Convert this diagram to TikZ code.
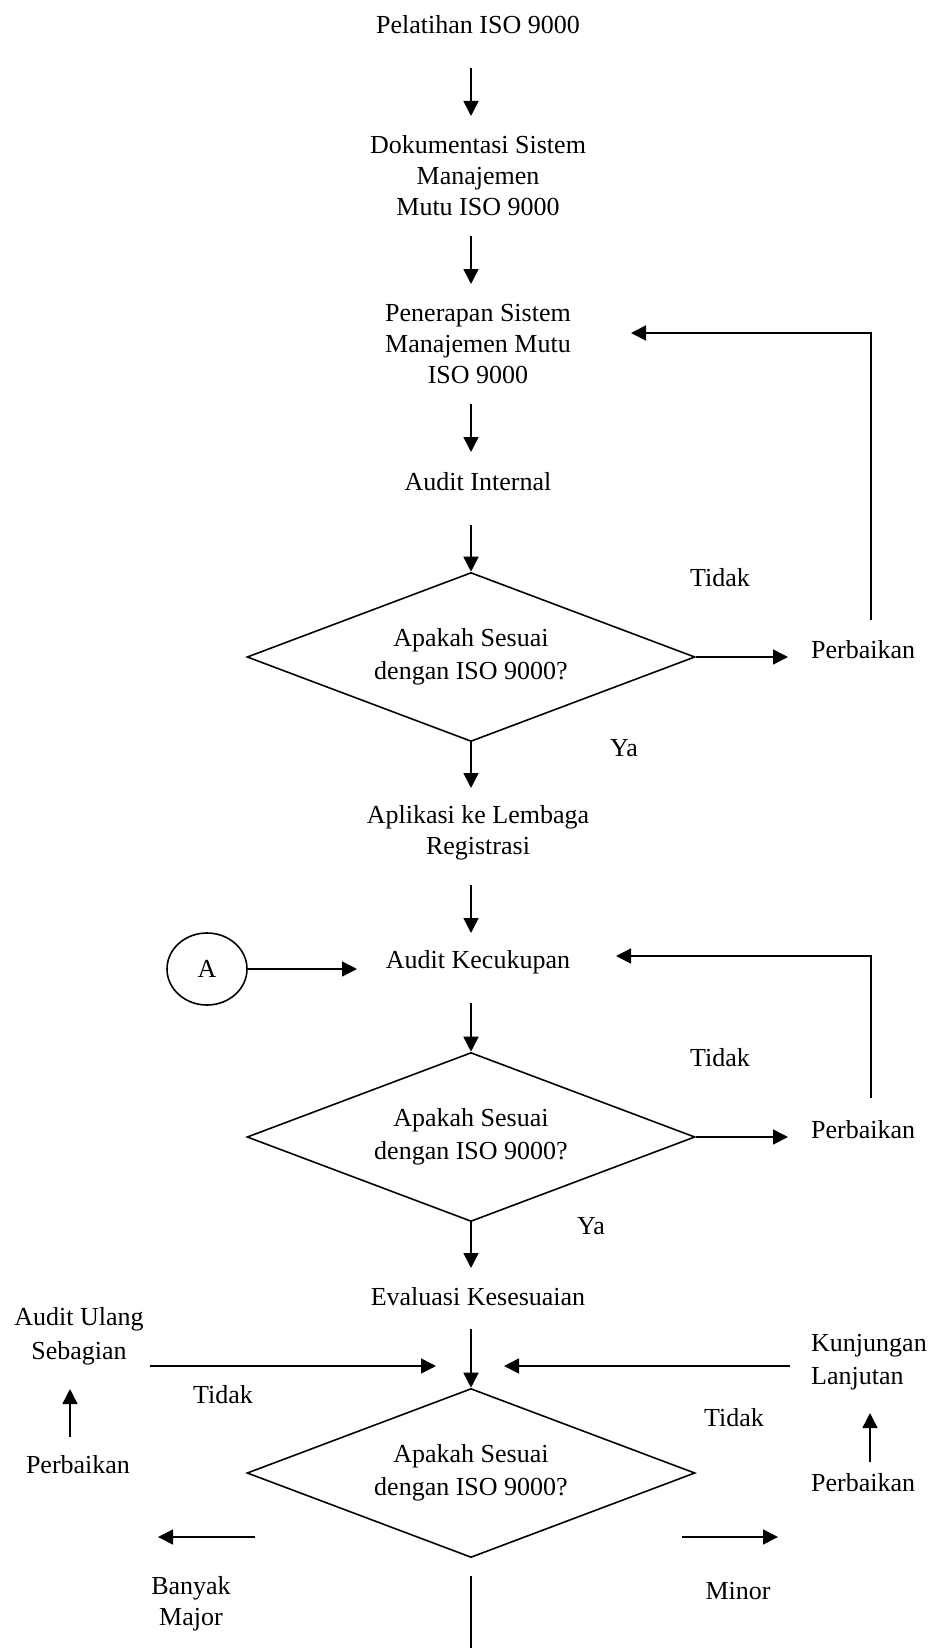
\documentclass[tikz,border=0pt]{standalone}
\usepackage{fontspec}
\setmainfont{Liberation Serif}
\usetikzlibrary{shapes.geometric,arrows.meta}
\begin{document}
\begin{tikzpicture}[x=1pt,y=-1pt,
  lbl/.style={font=\fontsize{26}{31}\selectfont, align=center, inner sep=0pt, yshift=-2pt},
  lblL/.style={font=\fontsize{26}{31}\selectfont, align=left, inner sep=0pt, anchor=west, yshift=-2pt},
  ln/.style={line width=1.6pt},
  arr/.style={line width=1.6pt, -{Triangle[length=15pt,width=15pt]}},
  dec/.style={draw, line width=1.6pt, diamond, aspect=2.65, minimum width=448pt, minimum height=169pt, inner sep=0pt, font=\fontsize{26}{33}\selectfont, align=center},
  conn/.style={draw, line width=1.6pt, ellipse, minimum width=80pt, minimum height=72pt, inner sep=0pt, font=\fontsize{26}{31}\selectfont}]
\useasboundingbox (0,0) rectangle (935,1648);

% main column
\node[lbl] (p1) at (478,23) {Pelatihan ISO 9000};
\node[lbl] (p2) at (478,174) {Dokumentasi Sistem\\Manajemen\\Mutu ISO 9000};
\node[lbl] (p3) at (478,342) {Penerapan Sistem\\Manajemen Mutu\\ISO 9000};
\node[lbl] (p4) at (478,480) {Audit Internal};
\node[dec] (d1) at (471,657) {Apakah Sesuai\\dengan ISO 9000?};
\node[lbl] (t1) at (720,576) {Tidak};
\node[lblL] (f1) at (811,648) {Perbaikan};
\node[lbl] (y1) at (624,746) {Ya};
\node[lbl] (p5) at (478,831) {Aplikasi ke Lembaga\\Registrasi};
\node[lbl] (p6) at (478,960) {Audit Kecukupan};
\node[conn] (A) at (207,969) {A};
\node[dec] (d2) at (471,1137) {Apakah Sesuai\\dengan ISO 9000?};
\node[lbl] (t2) at (720,1056) {Tidak};
\node[lblL] (f2) at (811,1128) {Perbaikan};
\node[lbl] (y2) at (591,1224) {Ya};
\node[lbl] (p7) at (478,1295) {Evaluasi Kesesuaian};
\node[dec] (d3) at (471,1473) {Apakah Sesuai\\dengan ISO 9000?};
\node[lbl] (au) at (79,1334) {Audit Ulang\\[3pt]Sebagian};
\node[lblL] (kl) at (811,1360) {Kunjungan\\[2pt]Lanjutan};
\node[lbl] (t3) at (223,1393) {Tidak};
\node[lbl] (t4) at (734,1416) {Tidak};
\node[lbl] (f3) at (78,1463) {Perbaikan};
\node[lblL] (f4) at (811,1481) {Perbaikan};
\node[lbl] (bm) at (191,1602) {Banyak\\Major};
\node[lbl] (mi) at (738,1589) {Minor};

% arrow end points
\coordinate (a1s) at (471,68);   \coordinate (a1e) at (471,116);
\coordinate (a2s) at (471,236);  \coordinate (a2e) at (471,284);
\coordinate (a3s) at (471,404);  \coordinate (a3e) at (471,452);
\coordinate (a4s) at (471,525);
\coordinate (e1) at (788,657);
\coordinate (fb1a) at (871,620); \coordinate (fb1b) at (871,333); \coordinate (fb1c) at (631,333);
\coordinate (a5e) at (471,788);
\coordinate (a6s) at (471,885);  \coordinate (a6e) at (471,933);
\coordinate (ae) at (357,969);
\coordinate (fb2a) at (871,1098); \coordinate (fb2b) at (871,956); \coordinate (fb2c) at (616,956);
\coordinate (a7s) at (471,1003);
\coordinate (e2) at (788,1137);
\coordinate (a8e) at (471,1268);
\coordinate (a9s) at (471,1329);
\coordinate (hl1) at (150,1366); \coordinate (hl2) at (436,1366);
\coordinate (hr1) at (790,1366); \coordinate (hr2) at (504,1366);
\coordinate (ul1) at (70,1437);  \coordinate (ul2) at (70,1389);
\coordinate (ur1) at (870,1462); \coordinate (ur2) at (870,1413);
\coordinate (bl1) at (255,1537); \coordinate (bl2) at (158,1537);
\coordinate (br1) at (682,1537); \coordinate (br2) at (778,1537);
\coordinate (bot1) at (471,1576); \coordinate (bot2) at (471,1648);

% connectors
\draw[arr] (a1s) -- (a1e);
\draw[arr] (a2s) -- (a2e);
\draw[arr] (a3s) -- (a3e);
\draw[arr] (a4s) -- (d1.north);
\draw[arr] (d1.east) -- (e1);
\draw[arr] (fb1a) -- (fb1b) -- (fb1c);
\draw[arr] (d1.south) -- (a5e);
\draw[arr] (a6s) -- (a6e);
\draw[arr] (A.east) -- (ae);
\draw[arr] (fb2a) -- (fb2b) -- (fb2c);
\draw[arr] (a7s) -- (d2.north);
\draw[arr] (d2.east) -- (e2);
\draw[arr] (d2.south) -- (a8e);
\draw[arr] (a9s) -- (d3.north);
\draw[arr] (hl1) -- (hl2);
\draw[arr] (hr1) -- (hr2);
\draw[arr] (ul1) -- (ul2);
\draw[arr] (ur1) -- (ur2);
\draw[arr] (bl1) -- (bl2);
\draw[arr] (br1) -- (br2);
\draw[ln] (bot1) -- (bot2);
\end{tikzpicture}
\end{document}
